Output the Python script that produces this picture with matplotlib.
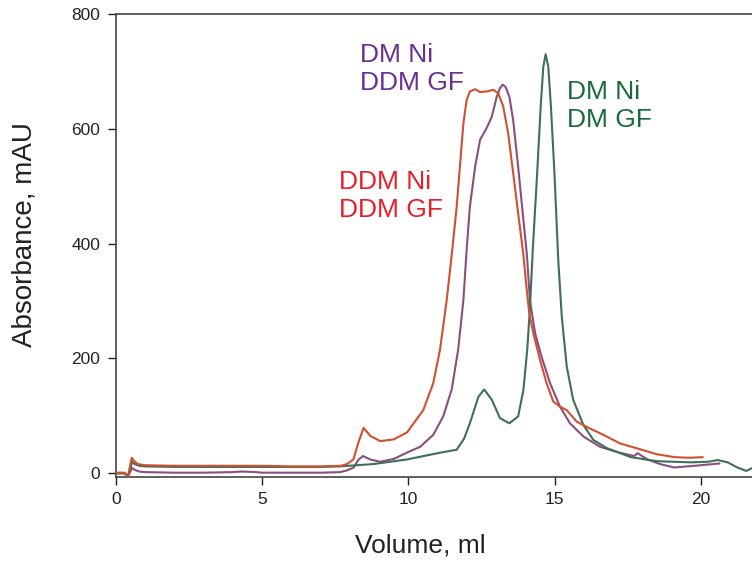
import matplotlib
matplotlib.use("Agg")
import matplotlib.pyplot as plt

plt.rcParams['font.family'] = ['Liberation Sans', 'DejaVu Sans']

# DDM Ni / DDM GF (red)
red_x = [0.0, 0.30, 0.42, 0.50, 0.55, 0.62, 0.75, 1.0, 2.0, 3.0, 4.0, 5.0, 6.0, 7.0, 7.7, 7.9, 8.12,
         8.3, 8.47, 8.7, 9.04, 9.5, 9.95, 10.51, 10.85, 11.08, 11.31, 11.48, 11.65, 11.76, 11.88,
         11.99, 12.1, 12.28, 12.45, 12.67, 12.9, 13.07, 13.24, 13.41, 13.58, 13.75, 13.93, 14.02,
         14.13, 14.27, 14.5, 14.72, 14.95, 15.18, 15.41, 15.75, 16.2, 16.66, 17.23, 17.9,
         18.5, 19.1, 19.6, 20.06]
red_y = [1, 1, -5, 15, 27, 22, 16, 14, 13, 13, 13, 13, 12, 12, 13, 16, 24,
         55, 79, 65, 56, 59, 71, 110, 157, 215, 302, 380, 464, 534, 610,
         650, 665, 669, 664, 665, 668, 662, 639, 592, 523, 453, 380, 331,
         279, 244, 197, 157, 125, 116, 110, 90, 78, 67, 52, 42,
         33, 28, 27, 28]

# DM Ni / DDM GF (purple)
pur_x = [0.0, 0.30, 0.42, 0.50, 0.56, 0.65, 0.8, 1.0, 2.0, 3.0, 4.0, 4.3, 4.8, 5.0, 6.0, 7.0, 7.67, 7.9,
         8.13, 8.3, 8.45, 8.7, 9.04, 9.5, 9.95, 10.4, 10.85, 11.19, 11.48, 11.7, 11.88, 11.99,
         12.1, 12.28, 12.45, 12.67, 12.85, 13.02, 13.12, 13.22, 13.32, 13.45, 13.58, 13.75, 13.93, 14.05,
         14.15, 14.33, 14.55, 14.84, 15.18, 15.52, 15.98, 16.55, 17.2, 17.72,
         17.83, 18.17, 18.6, 19.08, 19.77, 20.63]
pur_y = [0, 0, -5, 3, 9, 6, 3, 2, 1, 1, 2, 3, 2, 1, 1, 1, 2, 5,
         10, 24, 30, 24, 20, 25, 36, 46, 67, 99, 146, 215, 302, 389,
         464, 534, 581, 601, 621, 656, 670, 677, 673, 656, 615, 534, 441, 380,
         302, 244, 203, 157, 116, 87, 64, 46, 36, 30,
         35, 24, 16, 10, 13, 17]

# DM Ni / DM GF (green)
grn_x = [0.0, 0.30, 0.42, 0.50, 0.56, 0.65, 0.8, 1.0, 2.0, 3.0, 4.0, 5.0, 6.0, 7.0, 7.67, 8.8,
         9.95, 11.1, 11.65, 11.9, 12.1, 12.39, 12.59, 12.85, 13.13, 13.45, 13.75, 13.93, 14.06,
         14.15, 14.25, 14.4, 14.52, 14.61, 14.69, 14.78, 14.87, 14.99, 15.12, 15.24, 15.41,
         15.63, 15.98, 16.32, 16.77, 17.6, 18.5,
         19.66, 20.23, 20.57, 20.91, 21.2, 21.54, 21.78]
grn_y = [0, 0, -5, 8, 20, 16, 13, 12, 11, 11, 11, 11, 11, 11, 12, 16,
         24, 36, 41, 60, 87, 133, 146, 128, 96, 87, 99, 145, 215,
         285, 389, 523, 639, 708, 730, 708, 639, 523, 372, 273, 186,
         128, 84, 58, 44, 28, 21,
         19, 20, 23, 19, 11, 4, 10]

labels = ["DM Ni\nDDM GF", "DDM Ni\nDDM GF", "DM Ni\nDM GF"]
xticks = [0, 5, 10, 15, 20]
yticks = [0, 200, 400, 600, 800]

W, H = 752, 562
fig = plt.figure(figsize=(W / 100, H / 100), dpi=100)
ax = fig.add_axes([115.7 / W, 1 - 476.7 / H, 1.0 - 115.7 / W, (476.7 - 14) / H])

kw = dict(lw=1.5, solid_joinstyle='round', solid_capstyle='round')
ax.plot(pur_x, pur_y, color='#8B4E80', zorder=2, **kw)
ax.plot(grn_x, grn_y, color='#3E6F58', zorder=3, **kw)
ax.plot(red_x, red_y, color='#D0502F', zorder=4, **kw)

ax.set_xlim(0, 21.74)
ax.set_ylim(-6, 800)
ax.set_xticks(xticks)
ax.set_yticks(yticks)
ax.tick_params(direction='out', length=6, width=1.0, labelsize=12.5, colors='#222222', pad=5)
for s in ['left', 'bottom', 'top']:
    ax.spines[s].set_color('#444444')
    ax.spines[s].set_linewidth(1.2)
ax.spines['right'].set_visible(False)

fig.text(420 / W, 1 - 552 / H, 'Volume, ml', fontsize=19, color='#222222',
         ha='center', va='baseline')
fig.text(25 / W, 1 - 235 / H, 'Absorbance, mAU', fontsize=20, color='#222222',
         ha='center', va='center', rotation=90)

fig.text(360 / W, 1 - 43 / H, labels[0], fontsize=19, color='#6B2F8F',
         va='top', ha='left', linespacing=1.2)
fig.text(339 / W, 1 - 170 / H, labels[1], fontsize=19, color='#E8202A',
         va='top', ha='left', linespacing=1.2)
fig.text(567 / W, 1 - 80 / H, labels[2], fontsize=19, color='#1A6B3A',
         va='top', ha='left', linespacing=1.2)

fig.savefig('out.png', dpi=100)
